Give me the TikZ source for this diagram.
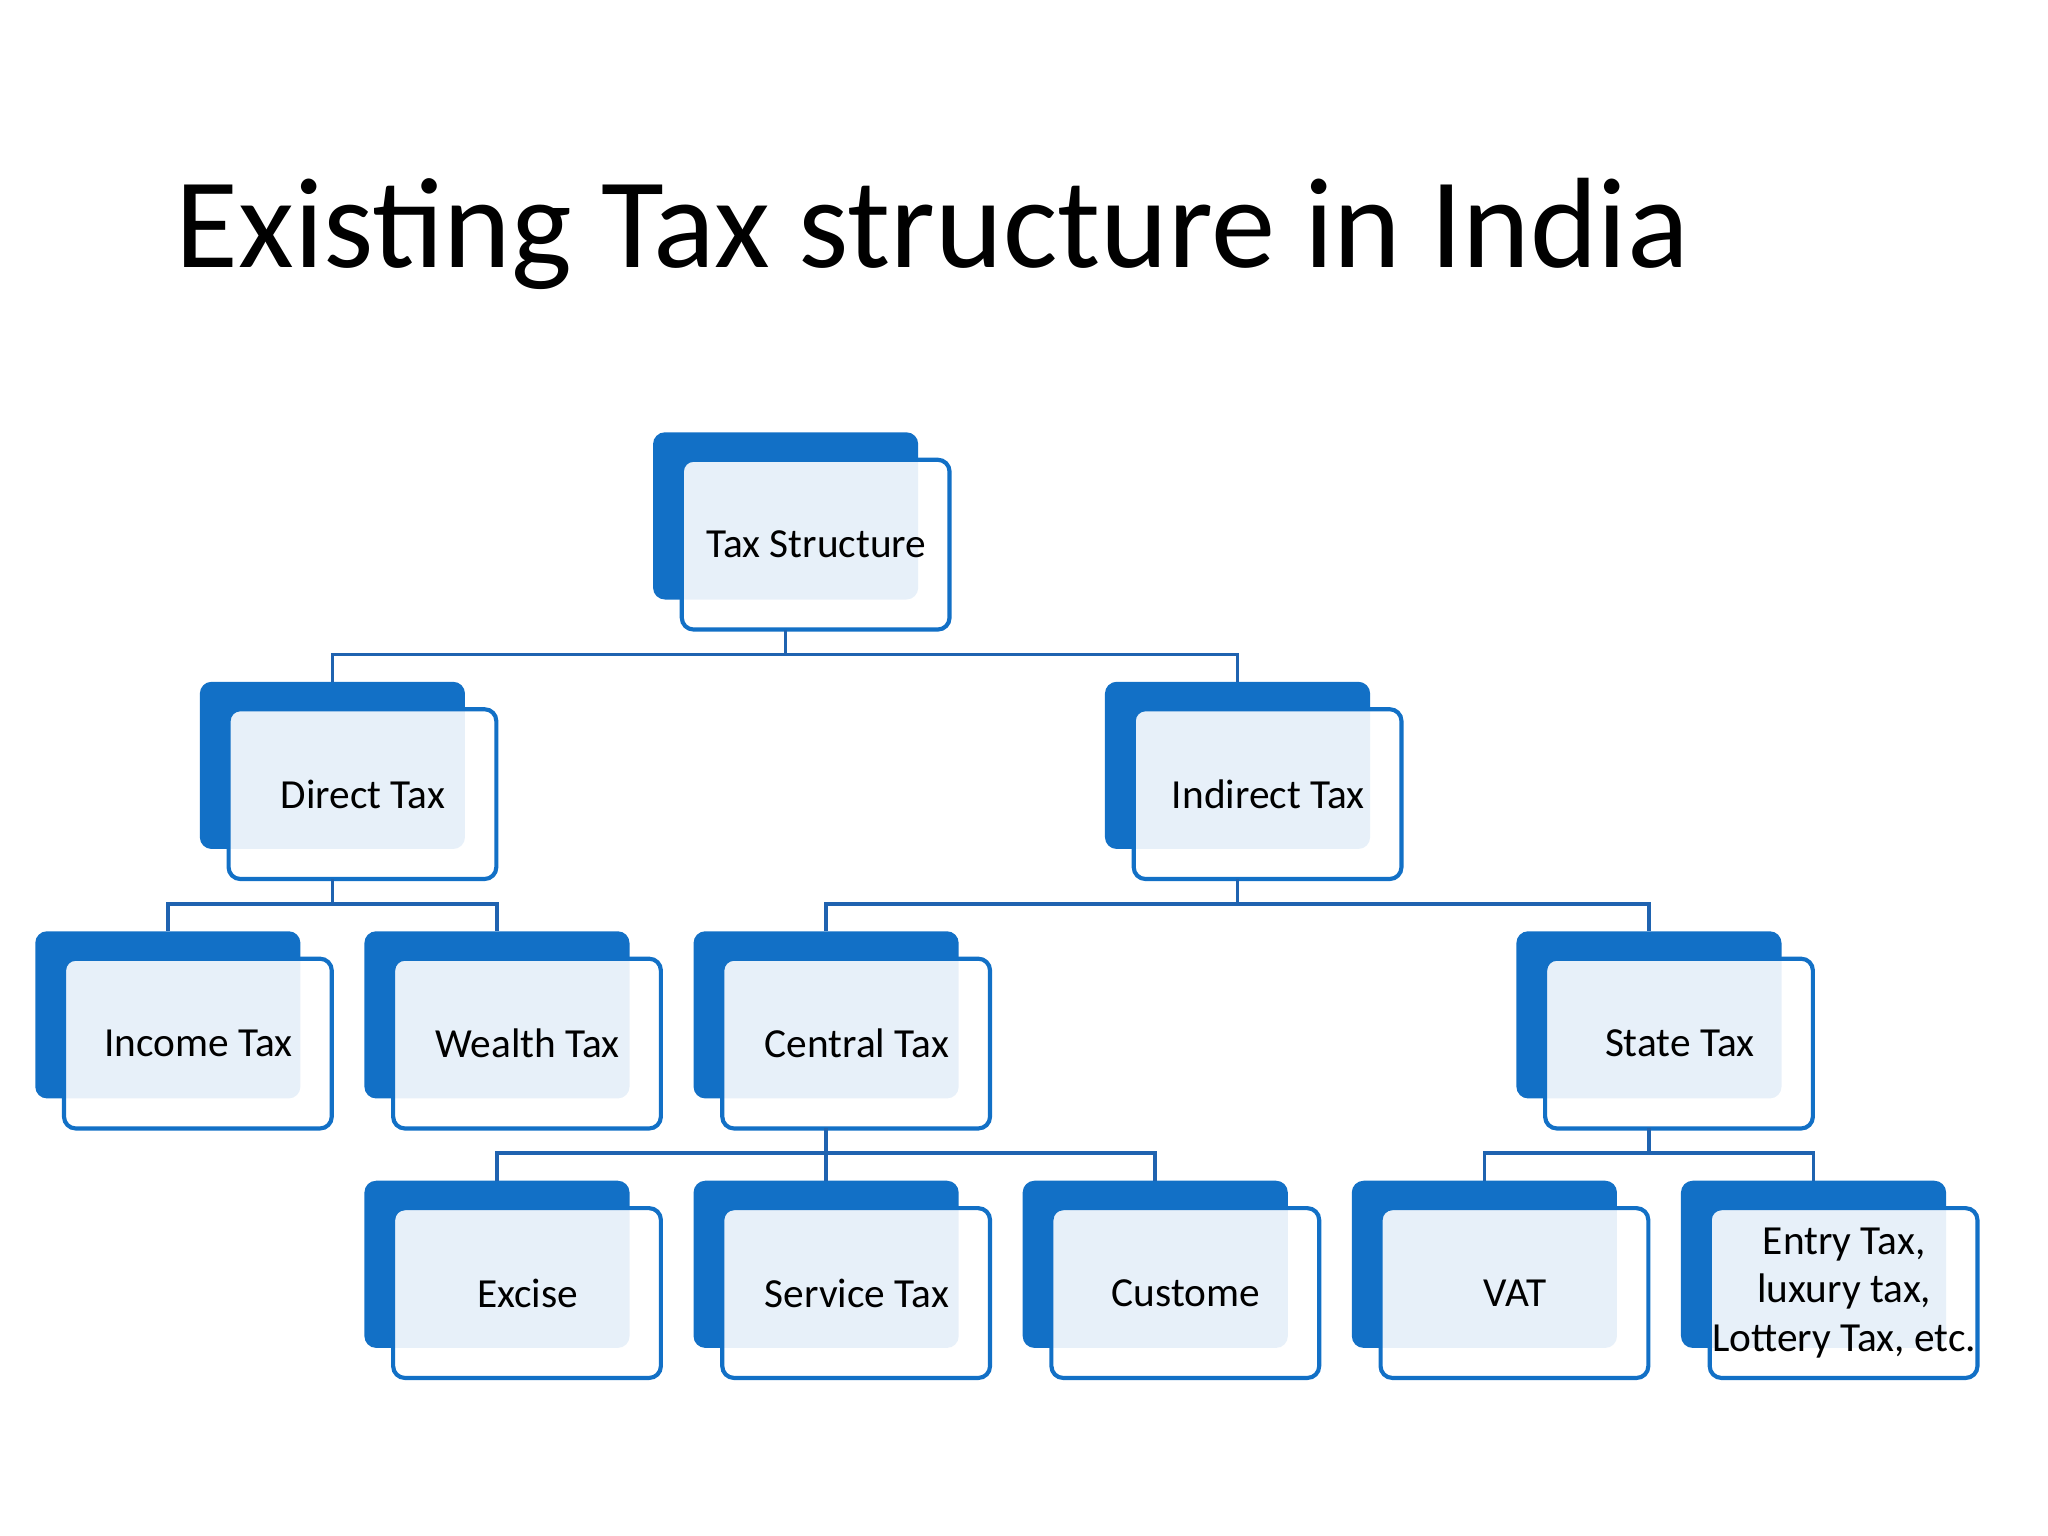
\documentclass[tikz,border=0pt]{standalone}
\usepackage{fontspec}
\setmainfont{Carlito}
\definecolor{tblue}{HTML}{1270C6}
\definecolor{tline}{HTML}{1F63B0}
\begin{document}
\begin{tikzpicture}[x=0.01cm,y=-0.01cm,
  backbox/.style={fill=tblue,rounded corners=0.09cm},
  frontbox/.style={draw=tblue,line width=0.9pt,fill=white,fill opacity=0.9,text opacity=1,rounded corners=0.09cm},
  lbl/.style={font=\fontsize{9}{10.5}\selectfont,align=center,text=black},
  conn/.style={draw=tline,line width=0.8pt}]
\useasboundingbox (0,0) rectangle (1568,1176);
\node[anchor=base west,font=\fontsize{28}{30}\selectfont] (title) at (122,205) {Existing Tax structure in India};
\newcommand{\tbox}[4]{%
  \fill[backbox] (#2,#3) rectangle ++(203,128);
  \filldraw[frontbox] (#2+22,#3+21) rectangle ++(205,130);
  \node[lbl] (#1) at (#2+125,#3+86) {#4};
  \coordinate (#1-top) at (#2+101.5,#3);
  \coordinate (#1-bot) at (#2+101.5,#3+151);
}
\tbox{ts}{500}{331}{Tax Structure}
\tbox{dt}{153}{522}{Direct Tax}
\tbox{it}{846}{522}{Indirect Tax}
\tbox{inc}{27}{713}{Income Tax}
\tbox{wt}{279}{713}{Wealth Tax}
\tbox{ct}{531}{713}{Central Tax}
\tbox{st}{1161}{713}{State Tax}
\tbox{ex}{279}{904}{Excise}
\tbox{sv}{531}{904}{Service Tax}
\tbox{cu}{783}{904}{Custome}
\tbox{vat}{1035}{904}{VAT}
\tbox{en}{1287}{904}{Entry Tax,\\ luxury tax,\\ Lottery Tax, etc.}
\newcommand{\tree}[3]{% parent, child list, mid y
  \draw[conn] (#1-bot) -- (#1-bot |- 0,#3);
  \foreach \c in {#2} {\draw[conn] (#1-bot |- 0,#3) -| (\c-top);}
}
\tree{ts}{dt,it}{501}
\tree{dt}{inc,wt}{692}
\tree{it}{ct,st}{692}
\tree{ct}{ex,sv,cu}{883}
\tree{st}{vat,en}{883}
\end{tikzpicture}
\end{document}
